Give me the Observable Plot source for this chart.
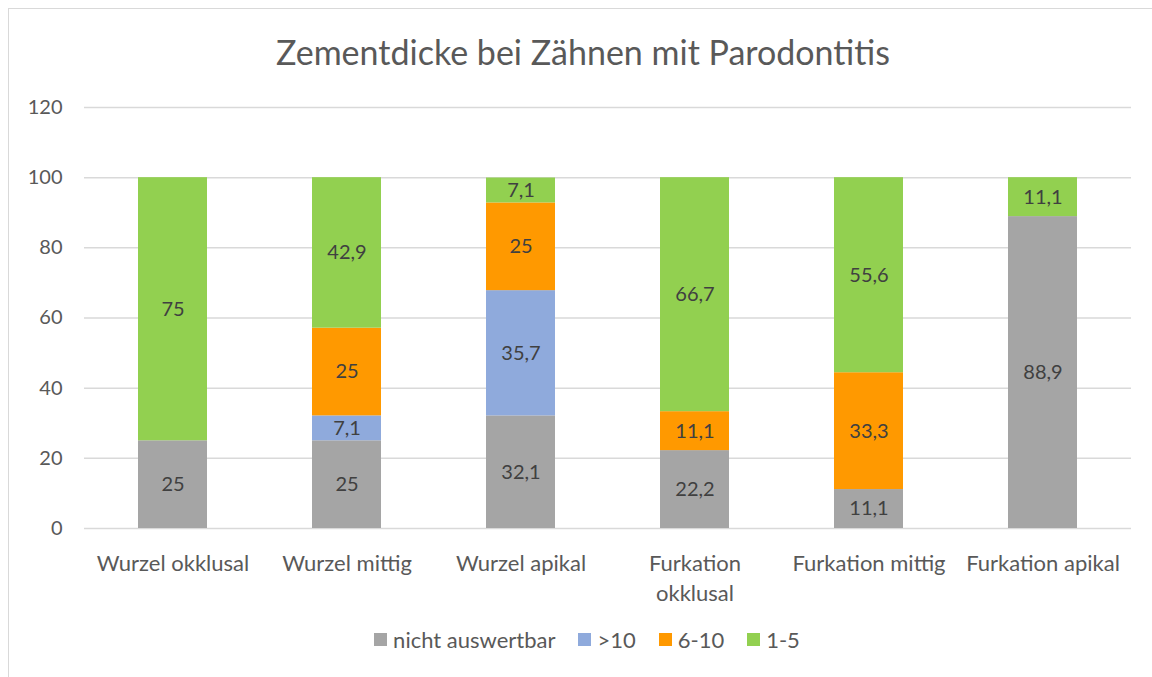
<!DOCTYPE html>
<html>
<head>
<meta charset="utf-8">
<script src="https://cdn.jsdelivr.net/npm/d3@7"></script>
<script src="https://cdn.jsdelivr.net/npm/@observablehq/plot@0.6"></script>
<style>
  html, body { margin: 0; padding: 0; background: #fff; overflow: hidden; width: 1152px; height: 677px; }
  body { position: relative; font-family: Lato, "Open Sans", sans-serif; color: #595959; }
  #frame { position: absolute; left: 8px; top: 8px; width: 1170px; height: 700px; border: 1px solid #d9d9d9; box-sizing: border-box; }
  #title { position: absolute; left: 0; top: 31px; width: 1166px; text-align: center; font-size: 34px; line-height: 42px; color: #595959; }
  #chart { position: absolute; left: 0; top: 89px; }
  #legend { position: absolute; left: 22px; top: 623px; width: 1176px; display: flex; justify-content: center; }
  #legend [class*="-swatches"] { justify-content: center; font-size: 22px !important; color: #595959; font-family: Lato, sans-serif; }
  #legend [class*="-swatch"] { margin-right: 23px !important; }
  #legend [class*="-swatch"] > svg { margin-right: 6px !important; }
</style>
</head>
<body>
<div id="frame"></div>
<div id="title">Zementdicke bei Zähnen mit Parodontitis</div>
<div id="chart"></div>
<div id="legend"></div>
<script>
const categories = ["Wurzel okklusal", "Wurzel mittig", "Wurzel apikal", "Furkation okklusal", "Furkation mittig", "Furkation apikal"];
const tickLabels = ["Wurzel okklusal", "Wurzel mittig", "Wurzel apikal", "Furkation\nokklusal", "Furkation mittig", "Furkation apikal"];
const seriesNames = ["nicht auswertbar", ">10", "6-10", "1-5"];
const seriesColors = ["#a5a5a5", "#8faadc", "#ff9900", "#92d050"];
const nichtAuswertbar = [25, 25, 32.1, 22.2, 11.1, 88.9];
const ueber10 = [0, 7.1, 35.7, 0, 0, 0];
const von6bis10 = [0, 25, 25, 11.1, 33.3, 0];
const von1bis5 = [75, 42.9, 7.1, 66.7, 55.6, 11.1];
const yTicks = [0, 20, 40, 60, 80, 100, 120];

const seriesValues = [nichtAuswertbar, ueber10, von6bis10, von1bis5];
const rows = [];
seriesNames.forEach((s, si) => {
  categories.forEach((c, ci) => rows.push({category: c, series: s, value: seriesValues[si][ci]}));
});
const fmt = v => String(v).replace(".", ",");
const labelOf = new Map(categories.map((c, i) => [c, tickLabels[i]]));

const chart = Plot.plot({
  width: 1152,
  height: 520,
  marginTop: 18,
  marginBottom: 81,
  marginLeft: 84,
  marginRight: 21,
  style: {fontFamily: "Lato, 'Open Sans', sans-serif", fontSize: "20px", color: "#595959", background: "transparent"},
  x: {domain: categories, paddingInner: 0.605, paddingOuter: 0.3025, align: 0.5, label: null},
  y: {domain: [0, 120], label: null},
  color: {domain: seriesNames, range: seriesColors},
  marks: [
    Plot.gridY(yTicks, {stroke: "#d9d9d9", strokeOpacity: 1, strokeWidth: 1.5}),
    Plot.barY(rows, Plot.stackY({x: "category", y: "value", fill: "series", order: seriesNames})),
    Plot.text(rows, Plot.stackY({x: "category", y: "value", z: "series", order: seriesNames,
      text: d => d.value > 0 ? fmt(d.value) : "", fill: "#404040", fontSize: 20})),
    Plot.axisY(yTicks, {tickSize: 0, tickPadding: 22, fontSize: 20, fill: "#595959"}),
    Plot.axisX({tickSize: 0, tickPadding: 22, fontSize: 22, fill: "#595959", lineHeight: 1.34,
      tickFormat: c => labelOf.get(c)})
  ]
});
document.getElementById("chart").appendChild(chart);

const legend = Plot.legend({
  color: {domain: seriesNames, range: seriesColors},
  legend: "swatches",
  swatchSize: 13,
  style: {fontSize: "22px", fontFamily: "Lato, sans-serif", color: "#595959"}
});
document.getElementById("legend").appendChild(legend);
</script>
</body>
</html>
